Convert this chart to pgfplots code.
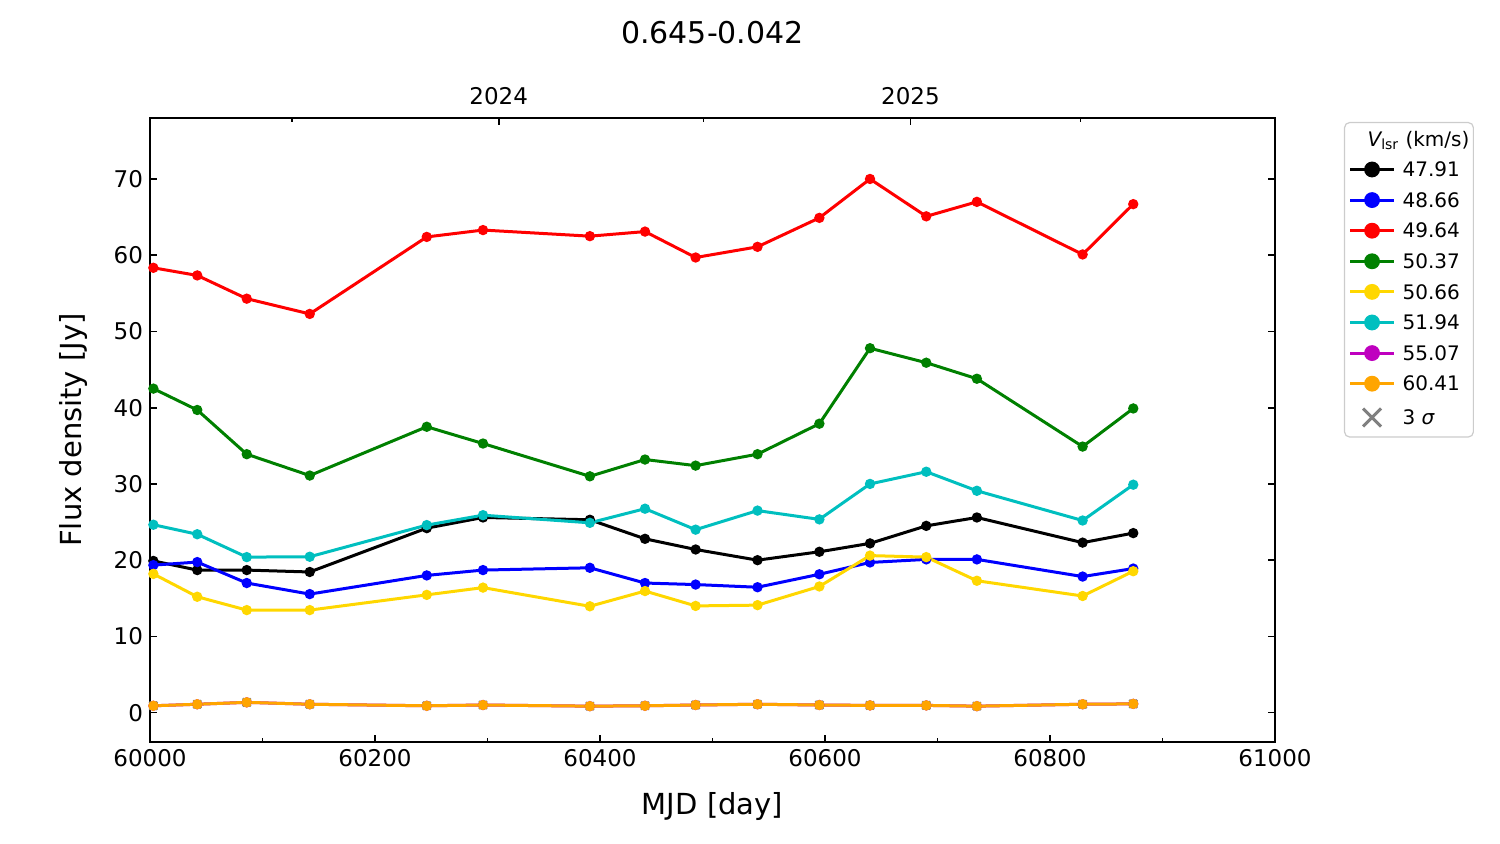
\documentclass[border=0pt]{standalone}
\usepackage{fontspec}
\setmainfont{DejaVu Sans}
\usepackage{pgfplots}
\pgfplotsset{compat=1.18}
\usepackage{pgfplotstable}

\definecolor{mplgreen}{rgb}{0,0.5,0}
\definecolor{mplgold}{RGB}{255,215,0}
\definecolor{mplcyan}{rgb}{0,0.75,0.75}
\definecolor{mplmag}{rgb}{0.75,0,0.75}
\definecolor{mplorange}{RGB}{255,165,0}
\definecolor{mplgray}{rgb}{0.5,0.5,0.5}

\pgfplotstableread{
mjd   k      b      r      g     y      c      low
60003 19.9   19.35  58.35  42.5  18.2   24.65  0.9
60042 18.7   19.75  57.35  39.7  15.2   23.4   1.1
60086 18.7   17.0   54.3   33.9  13.45  20.4   1.35
60142 18.45  15.55  52.3   31.1  13.45  20.45  1.1
60246 24.2   18.0   62.4   37.5  15.45  24.6   0.9
60296 25.6   18.7   63.3   35.3  16.4   25.9   1.0
60391 25.3   19.0   62.5   31.0  13.95  24.9   0.85
60440 22.8   17.0   63.1   33.2  15.95  26.75  0.9
60485 21.4   16.8   59.7   32.4  14.0   24.0   1.0
60540 20.0   16.45  61.1   33.9  14.1   26.5   1.1
60595 21.1   18.15  64.9   37.9  16.55  25.35  1.0
60640 22.2   19.7   70.0   47.8  20.6   30.0   0.95
60690 24.5   20.1   65.1   45.9  20.4   31.6   0.95
60735 25.6   20.1   67.0   43.8  17.3   29.1   0.85
60829 22.3   17.85  60.1   34.9  15.3   25.2   1.1
60874 23.55  18.9   66.7   39.9  18.55  29.9   1.15
}\data

\pgfplotsset{
  common/.style={
    at={(75pt,51pt)}, anchor=south west,
    scale only axis, width=562.5pt, height=312pt,
    xmin=60000, xmax=61000, ymin=-3.85, ymax=78,
    tick align=inside,
    major tick length=3.65pt, minor tick length=2.1pt,
    every tick/.style={black, line width=0.83pt},
    axis line style={line width=0.83pt},
    tick label style={font=\fontsize{11.5}{13}\selectfont},
    /pgf/number format/assume math mode=true,
    /pgf/number format/1000 sep={},
    scaled x ticks=false,
  },
  ser/.style={line width=1.5pt, mark=*, mark size=1.8pt, mark options={solid}},
}

\begin{document}
\begin{tikzpicture}
\path[use as bounding box] (0,0) rectangle (750pt,422pt);
\begin{axis}[
  common,
  xtick={60000,60200,...,61000},
  minor xtick={60100,60300,...,60900},
  ytick={0,10,...,70},
  xtick pos=left, ytick pos=both, yticklabel pos=left,
  xlabel={MJD [day]}, ylabel={Flux density [Jy]},
  label style={font=\fontsize{14.5}{17}\selectfont},
  xlabel style={at={(axis description cs:0.5,-0.1026)}, anchor=center},
  ylabel style={at={(axis description cs:-0.0684,0.5)}, anchor=center},
  title={0.645-0.042},
  title style={at={(axis description cs:0.5,1.118)}, anchor=center, font=\fontsize{15}{18}\selectfont},
  legend style={at={(1.0613,0.9936)}, anchor=north west, draw=black!20, rounded corners=2.5pt,
    line width=0.6pt, font=\fontsize{10}{12}\selectfont,
    nodes={inner sep=0pt, text height=7.3pt, text depth=0pt},
    row sep=8pt, column sep=3.5pt, inner xsep=2pt, inner ysep=4.5pt},
  legend cell align=left,
  legend image code/.code={\draw[mark repeat=2,mark phase=2,#1] plot coordinates {(0pt,0pt) (11pt,0pt) (22pt,0pt)};},
  legend image post style={mark size=3.2pt},
]
\addlegendimage{empty legend}
\addlegendentry{\hspace{-17.5pt}{\itshape V}\textsubscript{lsr} (km/s)}
\addplot[black, ser] table[x=mjd, y=k]{\data}; \addlegendentry{47.91}
\addplot[blue, ser] table[x=mjd, y=b]{\data}; \addlegendentry{48.66}
\addplot[red, ser] table[x=mjd, y=r]{\data}; \addlegendentry{49.64}
\addplot[mplgreen, ser] table[x=mjd, y=g]{\data}; \addlegendentry{50.37}
\addplot[mplgold, ser] table[x=mjd, y=y]{\data}; \addlegendentry{50.66}
\addplot[mplcyan, ser] table[x=mjd, y=c]{\data}; \addlegendentry{51.94}
\addplot[mplmag, ser] table[x=mjd, y=low]{\data}; \addlegendentry{55.07}
\addplot[mplgray, only marks, mark=x, mark size=2.8pt, line width=1pt, forget plot] table[x=mjd, y=low]{\data};
\addplot[mplorange, ser] table[x=mjd, y=low]{\data}; \addlegendentry{60.41}
\addlegendimage{legend image code/.code={\draw[mplgray, line width=1.5pt] (6.5pt,-4.5pt) -- (15.5pt,4.5pt) (6.5pt,4.5pt) -- (15.5pt,-4.5pt);}}
\addlegendentry{3 {\itshape σ}}
\end{axis}
\begin{axis}[
  common,
  hide y axis,
  xtick pos=right, xticklabel pos=right,
  xtick={60310,60676}, xticklabels={2024,2025},
  minor xtick={60126,60492,60827},
  xticklabel style={yshift=3pt},
]
\addplot[draw=none] coordinates {(60000,0)};
\end{axis}
\end{tikzpicture}
\end{document}
